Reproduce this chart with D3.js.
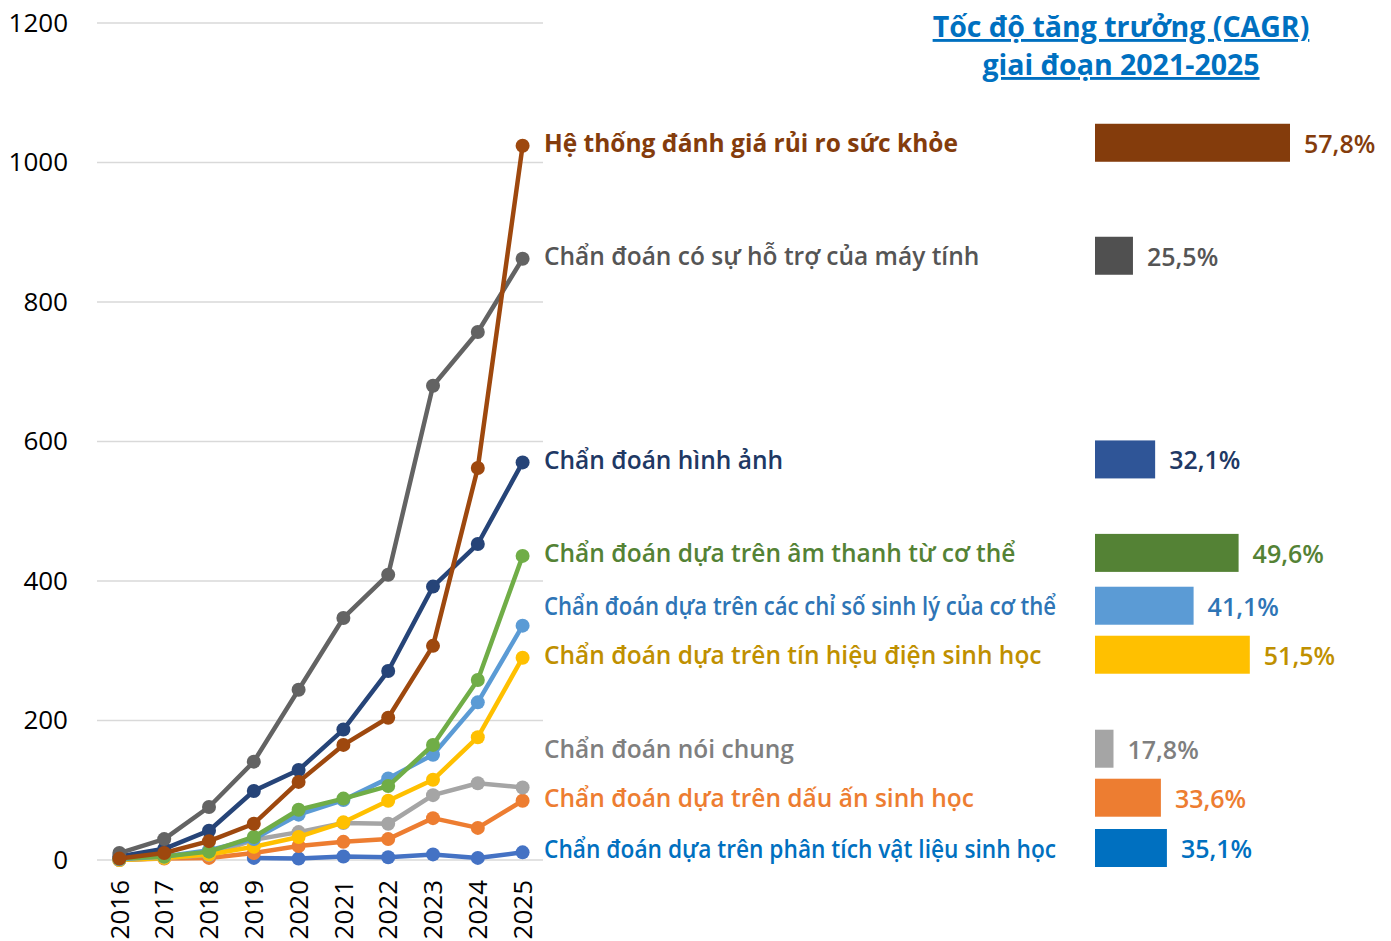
<!DOCTYPE html>
<html>
<head>
<meta charset="utf-8">
<script src="https://cdn.jsdelivr.net/npm/d3@7"></script>
<style>
    body { margin: 0; background: #fff; }
    svg text { font-family: "Open Sans", "Noto Sans", sans-serif; }
</style>
</head>
<body>
<div id="chart"></div>
<script>
// years on the x axis
var years = ["2016", "2017", "2018", "2019", "2020", "2021", "2022", "2023", "2024", "2025"];

// one array per segment
var riskAssessment = [2, 10, 27, 52, 112, 165, 204, 307, 562, 1024];
var computerAided = [10, 30, 76, 141, 244, 347, 409, 680, 757, 862];
var imaging = [5, 16, 42, 99, 129, 187, 271, 392, 453, 570];
var bodySound = [2, 5, 12, 33, 72, 88, 106, 165, 258, 436];
var physiological = [1, 5, 14, 30, 65, 86, 117, 151, 226, 336];
var bioelectric = [0, 3, 8, 19, 33, 54, 85, 115, 176, 290];
var general = [0, 3, 7, 29, 40, 53, 52, 93, 110, 104];
var biomarker = [0, 2, 3, 10, 20, 26, 30, 60, 46, 85];
var biomaterial = [null, null, null, 3, 2, 5, 4, 8, 3, 11];

var seriesNames = [
    "Hệ thống đánh giá rủi ro sức khỏe",
    "Chẩn đoán có sự hỗ trợ của máy tính",
    "Chẩn đoán hình ảnh",
    "Chẩn đoán dựa trên âm thanh từ cơ thể",
    "Chẩn đoán dựa trên các chỉ số sinh lý của cơ thể",
    "Chẩn đoán dựa trên tín hiệu điện sinh học",
    "Chẩn đoán nói chung",
    "Chẩn đoán dựa trên dấu ấn sinh học",
    "Chẩn đoán dựa trên phân tích vật liệu sinh học"
];
var seriesValues = [riskAssessment, computerAided, imaging, bodySound, physiological,
    bioelectric, general, biomarker, biomaterial];

// CAGR 2021-2025, same order as seriesNames
var cagr = [57.8, 25.5, 32.1, 49.6, 41.1, 51.5, 17.8, 33.6, 35.1];

var yTicks = [0, 200, 400, 600, 800, 1000, 1200];
var titleLines = ["Tốc độ tăng trưởng (CAGR)", "giai đoạn 2021-2025"];

// office palette: line colour, label colour, bar colour
var lineColors = ["#9E480E", "#636363", "#264478", "#70AD47", "#5B9BD5", "#FFC000", "#A5A5A5", "#ED7D31", "#4472C4"];
var labelColors = ["#843C0C", "#555555", "#203864", "#548235", "#2E75B6", "#BF9000", "#7F7F7F", "#ED7D31", "#0070C0"];
var barColors = ["#843C0C", "#505050", "#2F5597", "#548235", "#5B9BD5", "#FFC000", "#A5A5A5", "#ED7D31", "#0070C0"];
var labelWeights = [700, 600, 600, 600, 600, 600, 600, 600, 600];

GrowthChart = function(_parentElement) {
    this.parentElement = _parentElement;
    this.initVis();
};

/*
 *  Initialize chart
 */

GrowthChart.prototype.initVis = function() {
    var vis = this;
    vis.width = 1391;
    vis.height = 941;

    vis.svg = d3.select(vis.parentElement).append("svg")
        .attr("width", vis.width)
        .attr("height", vis.height);

    vis.x = d3.scaleBand()
        .domain(years)
        .range([97, 545]);
    vis.y = d3.scaleLinear()
        .domain([0, 1200])
        .range([860, 23]);
    // bar lengths on the right are not linear in the picture, a squared scale is close
    vis.barScale = d3.scalePow().exponent(2)
        .domain([0, d3.max(cagr)])
        .range([0, 195]);

    vis.wrangleData();
};

/*
 *  Data wrangling
 */

GrowthChart.prototype.wrangleData = function() {
    var vis = this;
    vis.series = seriesNames.map(function(name, i) {
        return {
            name: name,
            index: i,
            cagr: cagr[i],
            values: years.map(function(yr, j) { return {year: yr, value: seriesValues[i][j]}; })
        };
    });

    // label positions: start at the last point, push up so labels don't overlap
    var order = vis.series.slice().sort(function(a, b) {
        return vis.y(b.values[9].value) - vis.y(a.values[9].value);
    });
    var gap = 49, limit = 848;
    order.forEach(function(s) {
        var target = vis.y(s.values[9].value) - 3;
        s.labelY = Math.min(target, limit);
        limit = s.labelY - gap;
    });

    vis.updateVis();
};

GrowthChart.prototype.updateVis = function() {
    var vis = this;
    var cx = function(d) { return vis.x(d.year) + vis.x.bandwidth() / 2; };

    // gridlines
    vis.svg.append("g").selectAll("line")
        .data(yTicks)
        .enter().append("line")
        .attr("x1", 97).attr("x2", 543)
        .attr("y1", function(d) { return vis.y(d); })
        .attr("y2", function(d) { return vis.y(d); })
        .attr("stroke", "#D9D9D9")
        .attr("stroke-width", 1.5);

    var yAxis = d3.axisLeft(vis.y).tickValues(yTicks).tickFormat(d3.format("d"))
        .tickSize(0).tickPadding(0);
    var gy = vis.svg.append("g")
        .attr("transform", "translate(68,0)")
        .call(yAxis);
    gy.select(".domain").remove();
    gy.selectAll("text")
        .attr("font-size", 26)
        .attr("font-family", "'Open Sans', 'Noto Sans', sans-serif")
        .attr("fill", "#000");

    var xAxis = d3.axisBottom(vis.x).tickSize(0).tickPadding(0);
    var gx = vis.svg.append("g")
        .attr("transform", "translate(0,880)")
        .call(xAxis);
    gx.select(".domain").remove();
    gx.selectAll("text")
        .attr("font-size", 26)
        .attr("font-family", "'Open Sans', 'Noto Sans', sans-serif")
        .attr("fill", "#000")
        .attr("transform", "rotate(-90)")
        .attr("text-anchor", "end")
        .attr("x", 0)
        .attr("y", 0)
        .attr("dy", "0.35em");

    // lines, drawn last series first so the order matches the original
    var line = d3.line()
        .defined(function(d) { return d.value != null; })
        .x(cx)
        .y(function(d) { return vis.y(d.value); });

    var drawOrder = vis.series.slice().reverse();
    var groups = vis.svg.append("g").selectAll("g.series")
        .data(drawOrder)
        .enter().append("g")
        .attr("class", "series");
    groups.append("path")
        .attr("d", function(d) { return line(d.values); })
        .attr("fill", "none")
        .attr("stroke", function(d) { return lineColors[d.index]; })
        .attr("stroke-width", 4.5)
        .attr("stroke-linejoin", "round");
    groups.selectAll("circle")
        .data(function(d) {
            return d.values.filter(function(v) { return v.value != null; })
                .map(function(v) { return {year: v.year, value: v.value, index: d.index}; });
        })
        .enter().append("circle")
        .attr("cx", cx)
        .attr("cy", function(d) { return vis.y(d.value); })
        .attr("r", 7)
        .attr("fill", function(d) { return lineColors[d.index]; });

    // series labels, squeezed if they would run into the bars
    var maxLabel = 512;
    vis.svg.append("g").selectAll("text")
        .data(vis.series)
        .enter().append("text")
        .attr("x", 544)
        .attr("y", function(d) { return d.labelY; })
        .attr("dominant-baseline", "central")
        .attr("font-size", 24.5)
        .attr("font-weight", function(d) { return labelWeights[d.index]; })
        .attr("fill", function(d) { return labelColors[d.index]; })
        .text(function(d) { return d.name; })
        .each(function() {
            if (this.getComputedTextLength() > maxLabel) {
                d3.select(this)
                    .attr("textLength", maxLabel)
                    .attr("lengthAdjust", "spacingAndGlyphs");
            }
        });

    // CAGR bars
    var bars = vis.svg.append("g").selectAll("g")
        .data(vis.series)
        .enter().append("g");
    bars.append("rect")
        .attr("x", 1095)
        .attr("y", function(d) { return d.labelY - 19; })
        .attr("width", function(d) { return vis.barScale(d.cagr); })
        .attr("height", 38)
        .attr("fill", function(d) { return barColors[d.index]; });
    bars.append("text")
        .attr("x", function(d) { return 1095 + vis.barScale(d.cagr) + 14; })
        .attr("y", function(d) { return d.labelY; })
        .attr("dominant-baseline", "central")
        .attr("font-size", 25)
        .attr("font-weight", 600)
        .attr("fill", function(d) { return labelColors[d.index]; })
        .text(function(d) { return d3.format(".1f")(d.cagr).replace(".", ",") + "%"; });

    // title
    vis.svg.append("g").selectAll("text")
        .data(titleLines)
        .enter().append("text")
        .attr("x", 1121)
        .attr("y", function(d, i) { return 37 + i * 38; })
        .attr("text-anchor", "middle")
        .attr("font-size", 28.5)
        .attr("font-weight", 700)
        .attr("fill", "#0070C0")
        .attr("text-decoration", "underline")
        .text(function(d) { return d; });
};

var chart = new GrowthChart("#chart");
</script>
</body>
</html>
